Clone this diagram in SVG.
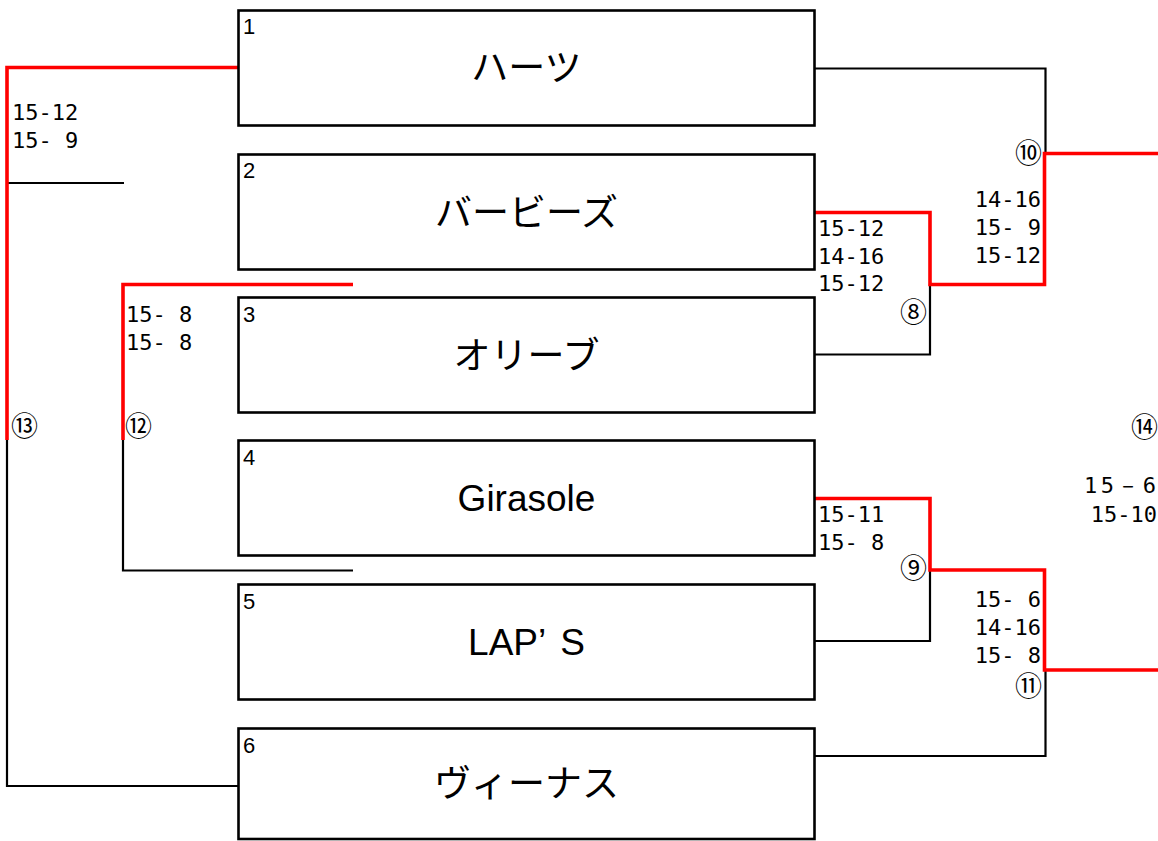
<svg xmlns="http://www.w3.org/2000/svg" width="1158" height="841" viewBox="0 0 1158 841">
<style>
.box{fill:#fff;stroke:#000;stroke-width:2.6}
.num{font-family:"Liberation Sans","Noto Sans CJK JP",sans-serif;font-size:22px;fill:#000}
.name{font-family:"Liberation Sans","Noto Sans CJK JP",sans-serif;font-size:37px;fill:#000;text-anchor:middle}
.sc{font-family:"DejaVu Sans Mono","Liberation Mono",monospace;font-size:22px;fill:#000}
.end{text-anchor:end}
.circ{font-family:"Noto Sans CJK JP",sans-serif;font-size:27px;fill:#000}
.blk{fill:none;stroke:#000;stroke-width:2.2}
.red{fill:none;stroke:#f00;stroke-width:3.6}
</style>
<rect width="1158" height="841" fill="#fff"/>
<g id="connectors">
<path class="blk" d="M7,440 V786 H238"/>
<path class="blk" d="M7,183 H124"/>
<path class="blk" d="M123,440 V570.5 H353"/>
<path class="blk" d="M815,68.5 H1045.5 V153"/>
<path class="blk" d="M930,284 V354.5 H815"/>
<path class="blk" d="M930,570 V641 H815"/>
<path class="blk" d="M1045.5,670 V756 H815"/>
<path class="red" d="M238,67.5 H7 V440"/>
<path class="red" d="M353,284.5 H123 V440"/>
<path class="red" d="M1158,153.5 H1044.5 V284.5 H930 V212.5 H815"/>
<path class="red" d="M815,498.5 H930 V570 H1044.5 V670 H1158"/>
</g>
<g id="node1">
<rect class="box" x="238.5" y="10.5" width="576" height="115"/>
<text class="num" x="243" y="34">1</text>
<text class="name" x="526.5" y="81">ハーツ</text>
</g>
<g id="node2">
<rect class="box" x="238.5" y="154.5" width="576" height="115"/>
<text class="num" x="243" y="178">2</text>
<text class="name" x="526.5" y="225.5">バービーズ</text>
</g>
<g id="node3">
<rect class="box" x="238.5" y="297.5" width="576" height="115"/>
<text class="num" x="243" y="321.5">3</text>
<text class="name" x="526.5" y="368.5">オリーブ</text>
</g>
<g id="node4">
<rect class="box" x="238.5" y="440.5" width="576" height="115"/>
<text class="num" x="243" y="464.5">4</text>
<text class="name" x="526.5" y="511">Girasole</text>
</g>
<g id="node5">
<rect class="box" x="238.5" y="584.5" width="576" height="115"/>
<text class="num" x="243" y="608.5">5</text>
<text class="name" x="526.5" y="655">LAP’<tspan dx="14">S</tspan></text>
</g>
<g id="node6">
<rect class="box" x="238.5" y="728.5" width="576" height="110.5"/>
<text class="num" x="243" y="752.5">6</text>
<text class="name" x="526.5" y="797">ヴィーナス</text>
</g>
<g id="scores">
<text class="sc" x="12" y="120">15-12</text>
<text class="sc" x="12" y="148">15- 9</text>
<text class="sc" x="126" y="322">15- 8</text>
<text class="sc" x="126" y="350">15- 8</text>
<text class="sc" x="818" y="236">15-12</text>
<text class="sc" x="818" y="264">14-16</text>
<text class="sc" x="818" y="291">15-12</text>
<text class="sc end" x="1041" y="207">14-16</text>
<text class="sc end" x="1041" y="235">15- 9</text>
<text class="sc end" x="1041" y="263">15-12</text>
<text class="sc" x="818" y="522">15-11</text>
<text class="sc" x="818" y="550">15- 8</text>
<text class="sc end" x="1041" y="607">15- 6</text>
<text class="sc end" x="1041" y="635">14-16</text>
<text class="sc end" x="1041" y="663">15- 8</text>
<text class="sc" x="1084" y="493" textLength="72" lengthAdjust="spacing">15－6</text>
<text class="sc end" x="1157" y="521.5">15-10</text>
</g>
<g id="match-labels">
<text class="circ" x="11" y="436">⑬</text>
<text class="circ" x="125" y="436">⑫</text>
<text class="circ end" x="1042" y="163">⑩</text>
<text class="circ end" x="927" y="322">⑧</text>
<text class="circ end" x="927" y="578">⑨</text>
<text class="circ end" x="1042" y="696">⑪</text>
<text class="circ end" x="1158" y="437">⑭</text>
</g>
</svg>
